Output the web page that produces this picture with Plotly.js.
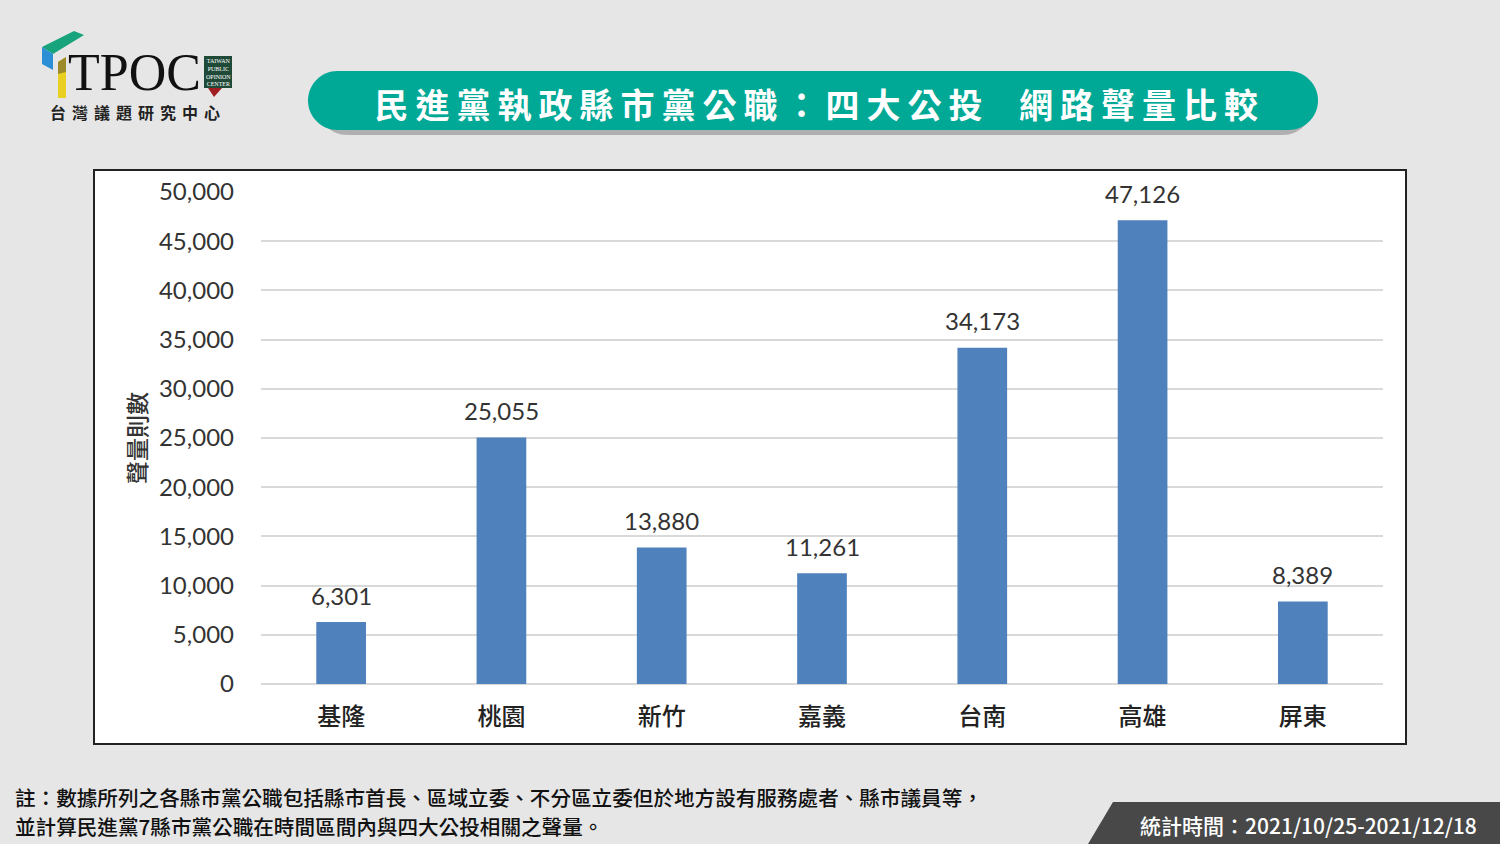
<!DOCTYPE html>
<html>
<head>
<meta charset="utf-8">
<script src="https://cdn.plot.ly/plotly-3.0.1.min.js"></script>
<style>
html,body{margin:0;padding:0;background:#e6e6e6;}
#chart{width:1500px;height:844px;}
.annotation[data-index="0"] .annotation-text{letter-spacing:7px;}
.annotation[data-index="1"] .annotation-text{letter-spacing:6px;}
</style>
</head>
<body>
<div id="chart"></div>
<script>
// ---- data ----
const categories = ['基隆','桃園','新竹','嘉義','台南','高雄','屏東'];
const values = [6301, 25055, 13880, 11261, 34173, 47126, 8389];
const yTickVals = [0,5000,10000,15000,20000,25000,30000,35000,40000,45000,50000];
const titleText = '民進黨執政縣市黨公職：四大公投  網路聲量比較';
const yTitle = '聲量則數';
const noteLine1 = '註：數據所列之各縣市黨公職包括縣市首長、區域立委、不分區立委但於地方設有服務處者、縣市議員等，';
const noteLine2 = '並計算民進黨7縣市黨公職在時間區間內與四大公投相關之聲量。';
const periodText = '統計時間：2021/10/25-2021/12/18';
const logoName = '台灣議題研究中心';

// ---- pixel -> paper helpers ----
const L = 261, R = 1383, T = 192, B = 684;
const px = x => (x - L) / (R - L);
const py = y => (B - y) / (B - T);
function poly(pts){
  return 'M' + pts.map(p => px(p[0]).toFixed(5) + ',' + py(p[1]).toFixed(5)).join(' L') + ' Z';
}
function pill(x0, x1, top, bottom){
  const r = (bottom - top) / 2, cy = (top + bottom) / 2, k = 0.5523 * r;
  const P = (x, y) => px(x).toFixed(5) + ',' + py(y).toFixed(5);
  return 'M' + P(x0 + r, top) + ' L' + P(x1 - r, top) +
    ' C' + P(x1 - r + k, top) + ' ' + P(x1, cy - k) + ' ' + P(x1, cy) +
    ' C' + P(x1, cy + k) + ' ' + P(x1 - r + k, bottom) + ' ' + P(x1 - r, bottom) +
    ' L' + P(x0 + r, bottom) +
    ' C' + P(x0 + r - k, bottom) + ' ' + P(x0, cy + k) + ' ' + P(x0, cy) +
    ' C' + P(x0, cy - k) + ' ' + P(x0 + r - k, top) + ' ' + P(x0 + r, top) + ' Z';
}

const CJK = '"Noto Sans CJK TC", "Noto Sans CJK SC", sans-serif';
const NUM = 'Lato, "Noto Sans", sans-serif';

const trace = {
  type: 'bar',
  x: categories,
  y: values,
  marker: {color: '#4f81bd'},
  hoverinfo: 'x+y'
};

const shapes = [
  // chart box
  {type:'rect', xref:'paper', yref:'paper', x0:px(94), x1:px(1406), y0:py(744), y1:py(170),
   fillcolor:'#ffffff', line:{color:'#222222', width:2}, layer:'below'},
  // banner shadow + banner
  {type:'path', xref:'paper', yref:'paper', path:pill(318,1312,77,135), fillcolor:'rgba(110,110,110,0.45)', line:{width:0}},
  {type:'path', xref:'paper', yref:'paper', path:pill(308,1318,71,130), fillcolor:'#00a896', line:{width:0}},
  // footer dark block
  {type:'path', xref:'paper', yref:'paper', path:poly([[1113,802],[1500,802],[1500,844],[1088,844]]), fillcolor:'#484848', line:{width:0}},
  // logo pieces
  {type:'path', xref:'paper', yref:'paper', path:poly([[42,47],[74,31],[84,35],[53,54]]), fillcolor:'#17a37c', line:{width:0}},
  {type:'path', xref:'paper', yref:'paper', path:poly([[42,47],[53,54],[53,70],[42,64]]), fillcolor:'#2a8fd4', line:{width:0}},
  {type:'path', xref:'paper', yref:'paper', path:poly([[58,62],[66,57],[66,98],[58,98]]), fillcolor:'#e9cf1f', line:{width:0}},
  {type:'path', xref:'paper', yref:'paper', path:poly([[58,62],[66,57],[66,72],[58,74]]), fillcolor:'#9c8a2a', line:{width:0}},
  {type:'rect', xref:'paper', yref:'paper', x0:px(204), x1:px(232), y0:py(88), y1:py(56), fillcolor:'#1f4a38', line:{width:0}},
  {type:'path', xref:'paper', yref:'paper', path:poly([[208,88],[222,88],[214,97]]), fillcolor:'#a01e22', line:{width:0}}
];

const annotations = [
  // 0: banner title
  {xref:'paper', yref:'paper', x:px(819), y:py(103), xanchor:'center', yanchor:'middle', showarrow:false,
   text:titleText, font:{family:CJK, size:34, color:'#ffffff', weight:'bold'}},
  // 1: logo subtitle
  {xref:'paper', yref:'paper', x:px(138), y:py(112), xanchor:'center', yanchor:'middle', showarrow:false,
   text:logoName, font:{family:CJK, size:16, color:'#222222', weight:'bold'}},
  // TPOC
  {xref:'paper', yref:'paper', x:px(134), y:py(73), xanchor:'center', yanchor:'middle', showarrow:false,
   text:'TPOC', font:{family:'"Liberation Serif", serif', size:52, color:'#111111'}},
  {xref:'paper', yref:'paper', x:px(218), y:py(72), xanchor:'center', yanchor:'middle', showarrow:false,
   text:'TAIWAN<br>PUBLIC<br>OPINION<br>CENTER', font:{family:'"Liberation Serif", serif', size:6, color:'#ffffff'}},
  // y title
  {xref:'paper', yref:'paper', x:px(136), y:py(438), xanchor:'center', yanchor:'middle', showarrow:false,
   textangle:-90, text:yTitle, font:{family:CJK, size:23, color:'#333333', weight:500}},
  // notes
  {xref:'paper', yref:'paper', x:px(13), y:py(797), xanchor:'left', yanchor:'middle', showarrow:false,
   text:noteLine1, font:{family:CJK, size:20.6, color:'#111111', weight:500}},
  {xref:'paper', yref:'paper', x:px(13), y:py(826), xanchor:'left', yanchor:'middle', showarrow:false,
   text:noteLine2, font:{family:CJK, size:20.6, color:'#111111', weight:500}},
  {xref:'paper', yref:'paper', x:px(1308), y:py(825), xanchor:'center', yanchor:'middle', showarrow:false,
   text:periodText, font:{family:CJK, size:21, color:'#ffffff', weight:500}}
];
// value labels above bars
categories.forEach((c, i) => {
  annotations.push({x:c, y:values[i], xref:'x', yref:'y', xanchor:'center', yanchor:'middle', yshift:27,
    showarrow:false, text:values[i].toLocaleString('en-US'), font:{family:NUM, size:24, color:'#333333'}});
});

const layout = {
  width:1500, height:844,
  margin:{l:L, r:1500-R, t:T, b:844-B, pad:0},
  paper_bgcolor:'#e6e6e6',
  plot_bgcolor:'#ffffff',
  showlegend:false,
  bargap:0.69,
  font:{family:CJK},
  xaxis:{
    type:'category', showgrid:false, showline:false, zeroline:false, ticks:'',
    ticklabelstandoff:16,
    tickfont:{family:CJK, size:24, color:'#222222', weight:500}
  },
  yaxis:{
    range:[0,50000], tickvals:yTickVals, tickformat:',d', showline:false,
    gridcolor:'#d9d9d9', gridwidth:2, zeroline:true, zerolinecolor:'#d9d9d9', zerolinewidth:2,
    ticks:'', ticklabelstandoff:26,
    tickfont:{family:NUM, size:24, color:'#333333'}
  },
  shapes:shapes,
  annotations:annotations
};

Plotly.newPlot('chart', [trace], layout, {displayModeBar:false, staticPlot:true});
</script>
</body>
</html>
